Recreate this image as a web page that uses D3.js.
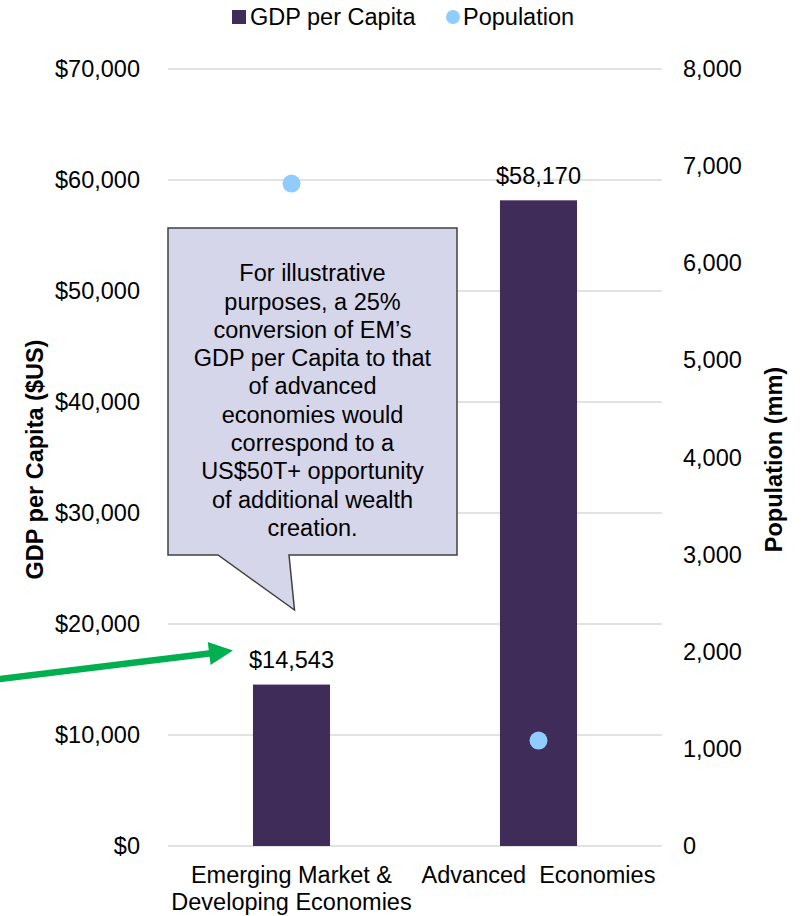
<!DOCTYPE html>
<html><head><meta charset="utf-8">
<script src="https://cdn.jsdelivr.net/npm/d3@7"></script>
<style>body{margin:0;background:#fff}text{font-family:"Liberation Sans",Arial,sans-serif}</style>
</head><body><svg id="c" width="802" height="916"></svg>
<script>
const categories = ["Emerging Market & Developing Economies", "Advanced  Economies"];
const categoryLines = [["Emerging Market &", "Developing Economies"], ["Advanced  Economies"]];
const gdpPerCapita = [14543, 58170];
const population = [6820, 1085];
const gdpTicks = [0, 10000, 20000, 30000, 40000, 50000, 60000, 70000];
const popTicks = [0, 1000, 2000, 3000, 4000, 5000, 6000, 7000, 8000];
const calloutLines = ["For illustrative", "purposes, a 25%", "conversion of EM\u2019s", "GDP per Capita to that", "of advanced", "economies would", "correspond to a", "US$50T+ opportunity", "of additional wealth", "creation."];

const svg = d3.select("#c");
const FS = 23.5;
const FF = "'Liberation Sans', Arial, sans-serif";
const L = 168, R = 662, T = 69, B = 846;
const x = d3.scaleBand().domain(categories).range([L, R]).paddingInner(0.688).paddingOuter(0.344);
const yL = d3.scaleLinear().domain([0, 70000]).range([B, T]);
const yR = d3.scaleLinear().domain([0, 8000]).range([B, T]);
const barColor = "#402C58", dotColor = "#91CCFF";

// gridlines
svg.append("g").selectAll("line").data(gdpTicks).join("line")
  .attr("x1", L).attr("x2", R).attr("y1", d => yL(d)).attr("y2", d => yL(d))
  .attr("stroke", "#D9D9D9").attr("stroke-width", 1.5);

// left axis
const axL = svg.append("g").attr("transform", `translate(${L},0)`)
  .call(d3.axisLeft(yL).tickValues(gdpTicks).tickSize(0).tickPadding(28).tickFormat(d => "$" + d3.format(",")(d)));
axL.select(".domain").remove();
axL.selectAll("text").attr("font-size", FS).attr("fill", "#000").attr("font-family", FF);

// right axis
const axR = svg.append("g").attr("transform", `translate(${R},0)`)
  .call(d3.axisRight(yR).tickValues(popTicks).tickSize(0).tickPadding(21).tickFormat(d3.format(",")));
axR.select(".domain").remove();
axR.selectAll("text").attr("font-size", FS).attr("fill", "#000").attr("font-family", FF);

// bars
svg.append("g").selectAll("rect").data(categories).join("rect")
  .attr("x", d => x(d)).attr("width", x.bandwidth())
  .attr("y", (d, i) => yL(gdpPerCapita[i])).attr("height", (d, i) => B - yL(gdpPerCapita[i]))
  .attr("fill", barColor);

// bar labels
svg.append("g").selectAll("text").data(categories).join("text")
  .attr("x", d => x(d) + x.bandwidth() / 2).attr("y", (d, i) => yL(gdpPerCapita[i]) - 25)
  .attr("dy", "0.35em").attr("text-anchor", "middle").attr("font-size", FS).attr("fill", "#000")
  .text((d, i) => "$" + d3.format(",")(gdpPerCapita[i]));

// category labels
categories.forEach((c, i) => {
  const t = svg.append("text").attr("text-anchor", "middle").attr("font-size", FS).attr("fill", "#000")
    .style("white-space", "pre").attr("xml:space", "preserve");
  categoryLines[i].forEach((ln, j) => {
    t.append("tspan").attr("x", x(c) + x.bandwidth() / 2).attr("y", 883 + j * 27).text(ln);
  });
});

// axis titles
svg.append("text").attr("transform", `translate(43,${(T + B) / 2 + 2}) rotate(-90)`)
  .attr("text-anchor", "middle").attr("font-size", FS).attr("font-weight", "bold").attr("fill", "#000")
  .text("GDP per Capita ($US)");
svg.append("text").attr("transform", `translate(782,${(T + B) / 2 + 2}) rotate(-90)`)
  .attr("text-anchor", "middle").attr("font-size", FS).attr("font-weight", "bold").attr("fill", "#000")
  .text("Population (mm)");

// callout
const cx0 = L, cx1 = 457, cy0 = 228, cy1 = 555;
const tip = [x(categories[0]) + x.bandwidth() / 2 + 3, 610];
svg.append("path")
  .attr("d", `M${cx0},${cy0}H${cx1}V${cy1}H289L${tip[0]},${tip[1]}L218,${cy1}H${cx0}Z`)
  .attr("fill", "#D6D6EA").attr("stroke", "#404040").attr("stroke-width", 1.5);
const ct = svg.append("text").attr("text-anchor", "middle").attr("font-size", FS).attr("fill", "#000");
calloutLines.forEach((ln, j) => {
  ct.append("tspan").attr("x", (cx0 + cx1) / 2).attr("y", 273 + j * 28.3).attr("dy", "0.35em").text(ln);
});

// population points
svg.append("g").selectAll("circle").data(categories).join("circle")
  .attr("cx", d => x(d) + x.bandwidth() / 2).attr("cy", (d, i) => yR(population[i]))
  .attr("r", 9).attr("fill", dotColor);

// green arrow
const ax1 = x(categories[0]) - 20, ay1 = yL(gdpPerCapita[0]) - 34;
const ax0 = 0, ay0 = 679;
const ang = Math.atan2(ay1 - ay0, ax1 - ax0);
const hl = 24, hw = 11.5;
const bx = ax1 - hl * Math.cos(ang), by = ay1 - hl * Math.sin(ang);
svg.append("line").attr("x1", ax0 - 5).attr("y1", ay0 - 5 * Math.tan(ang)).attr("x2", bx + 2).attr("y2", by + 2 * Math.tan(ang))
  .attr("stroke", "#00B050").attr("stroke-width", 6.5);
svg.append("path").attr("d", `M${ax1},${ay1}L${bx - hw * Math.sin(ang)},${by + hw * Math.cos(ang)}L${bx + hw * Math.sin(ang)},${by - hw * Math.cos(ang)}Z`)
  .attr("fill", "#00B050");

// legend
const lg = svg.append("g");
lg.append("rect").attr("x", 232).attr("y", 10).attr("width", 14).attr("height", 14).attr("fill", barColor);
lg.append("text").attr("x", 250).attr("y", 17).attr("dy", "0.35em").attr("font-size", FS).attr("fill", "#000").text("GDP per Capita");
lg.append("circle").attr("cx", 453).attr("cy", 17).attr("r", 7).attr("fill", dotColor);
lg.append("text").attr("x", 463).attr("y", 17).attr("dy", "0.35em").attr("font-size", FS).attr("fill", "#000").text("Population");
</script></body></html>
